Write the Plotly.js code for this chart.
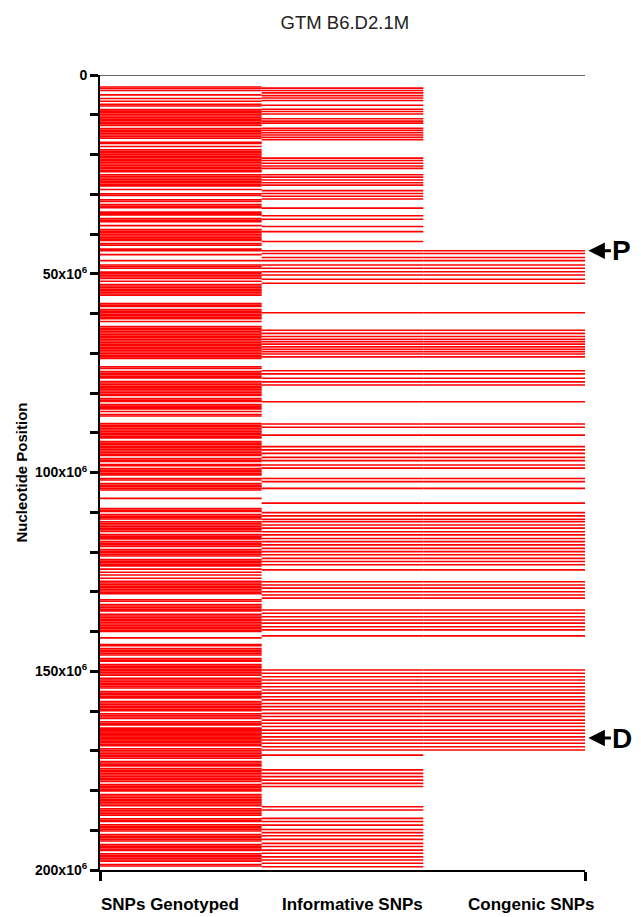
<!DOCTYPE html>
<html>
<head>
<meta charset="utf-8">
<script src="https://cdn.plot.ly/plotly-3.0.1.min.js"></script>
<style>html,body{margin:0;padding:0;background:#fff;}#chart{width:641px;height:917px;}</style>
</head>
<body>
<div id="chart"></div>
<script>
// SNP positions in Mb (x10^6 nucleotides)
const categories = ['SNPs Genotyped', 'Informative SNPs', 'Congenic SNPs'];
const yTickVals = [0, 50, 100, 150, 200];
const yTickText = ['0', '50x10<sup>6</sup>', '100x10<sup>6</sup>', '150x10<sup>6</sup>', '200x10<sup>6</sup>'];

const genotyped = [
 3.0,3.4,3.9,5.0,5.9,6.6,7.4,7.8,8.7,9.1,9.5,9.9,
 10.3,10.7,11.1,11.5,11.9,12.3,12.7,13.5,13.9,14.3,14.7,15.1,15.5,15.9,16.9,17.2,18.0,18.8,19.2,19.6,
 20.0,20.4,20.8,21.2,21.6,22.0,22.4,22.8,23.2,23.6,24.0,24.3,25.1,25.5,25.9,26.3,26.7,27.1,27.5,27.9,28.8,29.9,
 30.3,31.4,31.8,32.6,33.0,33.4,34.5,34.9,35.2,36.1,36.5,36.9,37.9,38.9,39.3,39.7,
 40.1,40.5,40.9,41.3,41.6,42.4,42.8,43.8,44.2,45.2,46.7,47.8,48.2,48.6,49.6,
 50.0,50.4,50.8,51.2,51.9,52.7,53.1,53.5,53.9,54.3,54.7,55.1,55.4,57.5,57.9,58.2,59.0,59.4,59.8,
 60.2,60.6,61.0,61.3,62.0,63.3,63.7,64.1,64.5,64.9,65.3,65.7,66.1,66.5,66.9,67.3,67.7,68.1,68.5,68.9,69.3,69.7,
 70.1,70.5,70.9,71.3,73.4,73.8,74.6,75.0,75.4,75.8,76.2,77.1,77.5,77.9,78.3,78.7,79.1,79.5,79.9,
 80.3,80.6,81.4,81.8,82.1,82.9,83.3,83.7,84.0,84.65,85.4,85.8,87.7,88.1,88.5,88.9,89.3,89.7,
 90.1,90.5,90.9,91.3,92.2,92.6,93.0,93.4,93.8,94.2,94.6,95.0,95.4,95.7,96.5,96.9,97.2,98.0,98.3,99.0,99.4,99.8,
 100.2,100.6,101.5,101.9,102.8,103.2,103.6,104.0,104.4,106.5,109.1,109.5,109.8,
 110.6,111.0,111.4,111.7,112.4,112.8,113.2,113.6,114.0,114.4,114.8,115.6,116.0,116.4,116.7,117.4,117.8,118.2,118.6,119.4,119.8,
 120.2,120.6,121.0,121.9,122.3,122.7,123.1,123.5,124.3,125.1,125.8,126.6,127.4,127.8,128.2,128.6,129.0,129.4,129.8,
 130.2,130.5,132.0,132.4,133.2,133.6,134.0,134.4,134.8,135.7,136.1,136.5,136.9,137.3,137.7,138.1,138.5,138.9,139.3,139.7,140.0,
 141.6,143.3,143.6,144.3,144.7,145.1,145.5,145.9,146.8,147.2,147.5,148.3,148.7,149.1,149.5,149.9,
 150.3,150.7,151.0,151.8,152.2,152.6,153.0,153.4,153.8,154.2,155.1,155.5,155.9,156.3,156.7,157.6,158.0,158.4,158.8,159.2,159.6,159.9,
 160.7,161.1,161.5,161.9,162.7,163.1,163.5,164.3,164.6,165.0,165.3,165.6,166.0,166.3,166.6,167.0,167.3,167.6,168.0,168.4,168.7,169.5,169.9,
 170.3,170.7,171.1,171.5,171.9,172.7,173.1,173.5,173.8,174.5,174.9,175.3,175.7,176.1,176.5,176.9,177.3,177.7,178.5,178.9,179.3,179.7,
 180.1,181.0,181.4,181.8,182.2,182.6,183.0,183.4,183.8,184.6,185.0,185.4,185.8,186.2,187.1,187.5,187.8,188.6,189.0,189.4,189.8,
 190.2,191.1,191.5,191.9,192.3,192.7,193.6,194.0,194.4,194.8,195.1,195.9,196.3,196.7,197.1,197.5,197.8,198.6,199.0
];

// informative SNPs lying outside the congenic interval
const informativeOnly = [
 3.3,3.9,4.5,5.2,5.8,6.4,7.6,8.6,9.2,9.8,11.0,11.6,12.1,13.4,13.9,14.5,15.1,15.7,16.3,
 20.9,21.5,22.2,22.9,23.5,25.1,25.7,26.4,27.1,27.7,29.1,29.8,30.5,31.2,33.5,35.4,36.3,38.1,39.4,41.9,
 171.1,174.8,175.7,176.5,177.4,178.2,179.0,184.1,184.9,
 187.0,187.8,188.7,189.8,190.6,191.4,192.3,193.3,194.1,195.0,195.8,196.7,197.5,198.3,199.2
];

// congenic SNPs (also informative)
const congenic = [
 44.2,44.9,45.9,46.7,47.8,48.6,49.5,50.3,51.4,52.4,
 59.8,
 64.2,65.0,65.8,66.5,67.1,67.7,68.4,69.0,69.6,70.2,70.9,
 74.4,75.2,76.3,77.2,78.0,
 82.2,
 87.8,88.6,90.6,
 93.5,94.3,95.2,96.2,97.0,98.1,98.9,
 101.5,102.3,104.0,
 107.7,
 110.1,110.9,111.8,112.4,113.2,114.0,114.9,115.7,116.6,117.4,118.2,119.1,119.9,120.7,121.6,122.4,123.2,124.5,
 127.5,128.3,129.1,130.0,130.8,131.6,
 134.6,135.4,136.3,137.1,137.9,138.8,139.6,141.1,
 149.7,150.5,151.4,152.2,153.0,153.9,154.7,155.5,156.4,157.2,158.1,158.9,159.7,160.6,161.4,162.3,163.1,163.9,164.8,165.6,166.5,167.3,168.1,169.0,169.8
];

const markerLabels = ['P', 'D'];
const markerPositions = [44.2, 166.8];

const informative = informativeOnly.concat(congenic);

function segs(vals, x0, x1) {
  const xs = [], ys = [];
  vals.forEach(v => { xs.push(x0, x1, null); ys.push(v, v, null); });
  return {xs, ys};
}

const cols = [genotyped, informative, congenic];
const traces = cols.map((vals, i) => {
  const s = segs(vals, i, i + 1);
  return {
    type: 'scatter', mode: 'lines', x: s.xs, y: s.ys, name: categories[i],
    line: {color: '#ff0000', width: 1.6}, hoverinfo: 'skip', showlegend: false,
    connectgaps: false
  };
});

const bold = {family: 'Liberation Sans, Arial, Helvetica, sans-serif', color: '#000', weight: 'bold'};
const catX = [0.433, 1.559, 2.672];

const annotations = categories.map((c, i) => ({
  text: c, x: catX[i], xref: 'x', y: -0.044, yref: 'paper',
  showarrow: false, xanchor: 'center', yanchor: 'middle',
  font: Object.assign({}, bold, {size: 17})
}));

markerLabels.forEach((lab, i) => {
  annotations.push({
    text: '', x: 1.007, xref: 'paper', y: markerPositions[i], yref: 'y',
    showarrow: true, ax: 24, ay: 0, arrowhead: 2, arrowsize: 1.1, arrowwidth: 3,
    arrowcolor: '#000', standoff: 0
  });
  annotations.push({
    text: lab, x: 1.076, xref: 'paper', y: markerPositions[i], yref: 'y',
    showarrow: false, xanchor: 'center', yanchor: 'middle',
    font: Object.assign({}, bold, {size: 28})
  });
});

const layout = {
  width: 641, height: 917,
  margin: {l: 100, r: 56, t: 75, b: 47},
  paper_bgcolor: '#fff', plot_bgcolor: '#fff',
  title: {text: 'GTM B6.D2.1M', x: 0.538, xanchor: 'center', y: 1 - 23/917, yanchor: 'middle', yref: 'container',
          font: {family: 'Liberation Sans, Arial, Helvetica, sans-serif', size: 18.5, color: '#222'}},
  xaxis: {
    range: [0, 3], showgrid: false, zeroline: false, showline: true, linecolor: '#000', linewidth: 2,
    tickvals: [0, 3], ticks: 'outside', ticklen: 9, tickwidth: 3, tickcolor: '#000', showticklabels: false,
    fixedrange: true
  },
  yaxis: {
    range: [200, 0], showgrid: false, zeroline: false, showline: true, linecolor: '#000', linewidth: 2,
    tickvals: yTickVals, ticktext: yTickText, ticks: 'outside', ticklen: 8, tickwidth: 3, tickcolor: '#000',
    tickfont: Object.assign({}, bold, {size: 14}),
    minor: {dtick: 10, tick0: 0, ticks: 'outside', ticklen: 8, tickwidth: 3, tickcolor: '#000', showgrid: false},
    title: {text: 'Nucleotide Position', font: Object.assign({}, bold, {size: 15}), standoff: 4},
    fixedrange: true
  },
  shapes: [{type: 'line', xref: 'x', yref: 'y', x0: 0, x1: 3, y0: 0, y1: 0, line: {color: '#333', width: 1.5}}],
  annotations: annotations
};

Plotly.newPlot('chart', traces, layout, {staticPlot: true, displayModeBar: false});
</script>
</body>
</html>
